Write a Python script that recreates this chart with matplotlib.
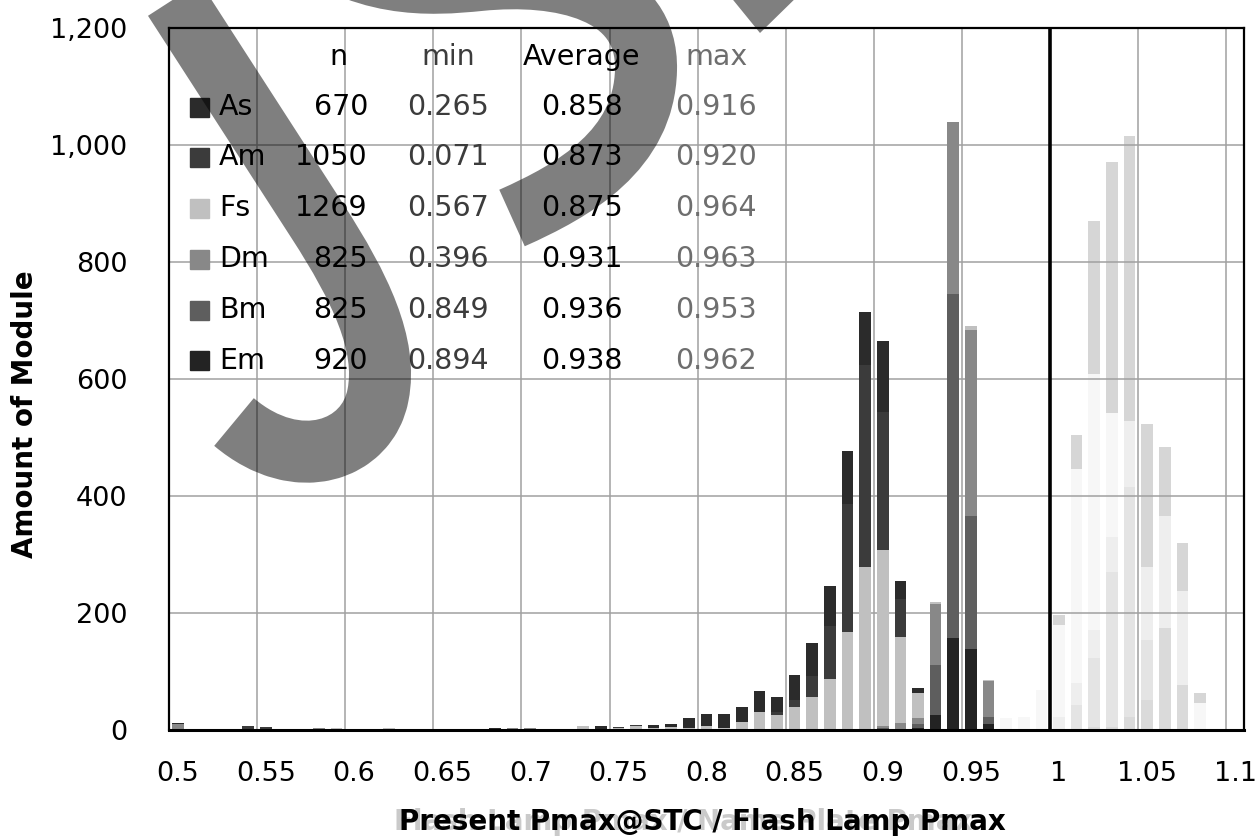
import numpy as np
import matplotlib
matplotlib.use("Agg")
import matplotlib.pyplot as plt
from matplotlib import transforms
from matplotlib.path import Path
from matplotlib.patches import PathPatch, Polygon, Rectangle

plt.rcParams['font.family'] = ['DejaVu Sans']

W, H = 1258, 839

# ---- histogram bins (0.01 wide, value = bin centre) ----
BINS = np.round(np.arange(0.50, 1.105, 0.01), 2)
TICK_POS = [0.5, 0.55, 0.6, 0.65, 0.7, 0.75, 0.8, 0.85, 0.9, 0.95, 1.0, 1.05, 1.1]
TICK_LABELS = ["0.5", "0.55", "0.6", "0.65", "0.7", "0.75", "0.8", "0.85",
               "0.9", "0.95", "1", "1.05", "1.1"]
Y_TICKS = [0, 200, 400, 600, 800, 1000, 1200]
Y_TICK_LABELS = ["0", "200", "400", "600", "800", "1,000", "1,200"]

# ---- module counts per bin, one list per module type ----
EM = [0, 0, 0, 0, 0, 0, 0, 0, 0, 0,
      0, 0, 0, 0, 0, 0, 0, 0, 0, 0,
      0, 0, 0, 0, 0, 0, 0, 0, 0, 0,
      0, 0, 0, 0, 0, 0, 0, 0, 0, 0,
      2, 0, 3, 25, 158, 138, 11, 0, 0, 0,
      0, 0, 0, 0, 0, 0, 0, 0, 0, 0, 0]
BM = [0, 0, 0, 0, 0, 0, 0, 0, 0, 0,
      0, 0, 0, 0, 0, 0, 0, 0, 0, 0,
      0, 0, 0, 0, 0, 0, 0, 0, 0, 0,
      0, 0, 0, 0, 0, 0, 0, 0, 0, 0,
      2, 0, 7, 86, 588, 227, 11, 0, 0, 0,
      0, 0, 0, 0, 0, 0, 0, 0, 0, 0, 0]
DM = [11, 0, 2, 0, 0, 0, 0, 0, 3, 0,
      0, 0, 0, 0, 0, 0, 1, 0, 0, 3,
      3, 0, 0, 2, 0, 0, 0, 0, 0, 0,
      0, 0, 0, 0, 0, 0, 0, 0, 0, 0,
      2, 12, 10, 104, 293, 318, 62, 0, 0, 0,
      0, 0, 0, 0, 0, 0, 0, 0, 0, 0, 0]
FS = [0, 0, 0, 0, 0, 0, 0, 2, 0, 3,
      0, 0, 3, 0, 0, 0, 0, 2, 0, 0,
      0, 0, 0, 4, 1, 3, 6, 4, 5, 4,
      6, 3, 14, 30, 26, 40, 57, 87, 168, 279,
      302, 147, 43, 4, 0, 7, 2, 0, 0, 0,
      0, 0, 0, 0, 0, 0, 0, 0, 0, 0, 0]
AM = [0, 0, 0, 1, 6, 5, 0, 0, 0, 0,
      0, 1, 0, 0, 1, 0, 0, 0, 0, 0,
      0, 1, 0, 0, 0, 2, 2, 0, 0, 0,
      0, 0, 0, 0, 4, 11, 35, 91, 218, 345,
      236, 65, 0, 0, 0, 0, 0, 0, 0, 0,
      0, 0, 0, 0, 0, 0, 0, 0, 0, 0, 0]
AS = [1, 1, 0, 0, 0, 0, 1, 0, 0, 0,
      1, 0, 0, 1, 0, 1, 0, 0, 3, 0,
      0, 0, 1, 0, 6, 0, 0, 5, 6, 16,
      21, 24, 26, 37, 26, 43, 56, 68, 91, 91,
      121, 31, 8, 0, 0, 0, 0, 0, 0, 0,
      0, 0, 0, 0, 0, 0, 0, 0, 0, 0, 0]

# stacked bottom -> top
STACK = [("Em", EM, "#232323"), ("Bm", BM, "#5e5e5e"), ("Dm", DM, "#888888"),
         ("Fs", FS, "#c0c0c0"), ("Am", AM, "#3b3b3b"), ("As", AS, "#2b2b2b")]

# ---- faded flash-lamp / name-plate histogram, bins 0.97 .. 1.10 ----
FADED_BINS = BINS[47:]
FADED_1 = [0, 0, 0, 0, 0, 5, 5, 22, 52, 174, 77, 0, 0, 0]
FADED_2 = [0, 0, 0, 0, 43, 118, 265, 393, 102, 0, 0, 0, 0, 0]
FADED_3 = [0, 0, 0, 22, 37, 48, 60, 113, 125, 192, 161, 0, 0, 0]
FADED_4 = [20, 22, 68, 158, 366, 437, 212, 0, 0, 0, 0, 46, 0, 0]
FADED_5 = [0, 0, 0, 17, 58, 262, 429, 487, 244, 118, 82, 17, 0, 0]
FADED_STACK = [(FADED_1, "#dadada"), (FADED_2, "#e4e4e4"), (FADED_3, "#eeeeee"),
               (FADED_4, "#f7f7f7"), (FADED_5, "#d6d6d6")]

# ---- summary table ----
TABLE_NAMES = ["As", "Am", "Fs", "Dm", "Bm", "Em"]
TABLE_N = [670, 1050, 1269, 825, 825, 920]
TABLE_MIN = [0.265, 0.071, 0.567, 0.396, 0.849, 0.894]
TABLE_AVG = [0.858, 0.873, 0.875, 0.931, 0.936, 0.938]
TABLE_MAX = [0.916, 0.920, 0.964, 0.963, 0.953, 0.962]
TABLE_COLORS = {"As": "#2b2b2b", "Am": "#3b3b3b", "Fs": "#c0c0c0",
                "Dm": "#888888", "Bm": "#5e5e5e", "Em": "#232323"}

BAR_W = 0.0066
FS_TXT = 20.5
FS_TICK = 19.5
FS_TITLE = 20

fig = plt.figure(figsize=(W / 100, H / 100), dpi=100)
ax = fig.add_axes([169 / W, (H - 730) / H, (1244 - 169) / W, (730 - 28) / H])

# faded histogram sits behind the grid
bottom = np.zeros(len(FADED_BINS))
for vals, col in FADED_STACK:
    ax.bar(FADED_BINS, vals, BAR_W, bottom=bottom, color=col, zorder=0.5, linewidth=0)
    bottom += np.array(vals)

# grid
for t in TICK_POS[1:]:
    ax.axvline(t - 0.005, color="#a0a0a0", lw=1.1, zorder=1)
for v in Y_TICKS[1:-1]:
    ax.axhline(v, color="#a0a0a0", lw=1.1, zorder=1)

bottom = np.zeros(len(BINS))
for name, vals, col in STACK:
    ax.bar(BINS, vals, BAR_W, bottom=bottom, color=col, zorder=2, linewidth=0)
    bottom += np.array(vals)

# ratio = 1 marker
ax.axvline(0.995, color="black", lw=2.6, zorder=3)

ax.set_xlim(0.495, 1.105)
ax.set_ylim(0, 1200)
ax.set_xticks(TICK_POS)
ax.set_xticklabels(TICK_LABELS)
ax.set_yticks(Y_TICKS)
ax.set_yticklabels(Y_TICK_LABELS)
ax.tick_params(axis="both", length=0, labelsize=FS_TICK, colors="black")
ax.tick_params(axis="y", pad=30)
ax.tick_params(axis="x", pad=22)
for s in ax.spines.values():
    s.set_linewidth(1.6)
    s.set_color("black")
    s.set_zorder(4)
ax.spines["bottom"].set_linewidth(2.2)


def px_text(x, y, s, **kw):
    fig.text(x / W, 1 - y / H, s, **kw)


# axis titles
fig.text(25 / W, 1 - 414 / H, "Amount of Module", rotation=90, ha="center",
         va="center", fontsize=FS_TITLE, fontweight="bold")
px_text(394, 822, "Flash Lamp Pmax / Name Plate Pmax", ha="left", va="center",
        fontsize=FS_TITLE, fontweight="bold", color="#cacaca")
px_text(399, 822, "Present Pmax@STC / Flash Lamp Pmax", ha="left", va="center",
        fontsize=FS_TITLE, fontweight="bold", color="black")

# summary table inside the plot
px_text(338, 57, "n", ha="center", va="center", fontsize=FS_TXT)
px_text(448, 57, "min", ha="center", va="center", fontsize=FS_TXT, color="#3c3c3c")
px_text(582, 57, "Average", ha="center", va="center", fontsize=FS_TXT)
px_text(716, 57, "max", ha="center", va="center", fontsize=FS_TXT, color="#6e6e6e")
row_y = [107, 157, 208, 259, 310, 361]
for k, name in enumerate(TABLE_NAMES):
    y = row_y[k]
    fig.patches.append(Rectangle((190 / W, 1 - (y + 9.5) / H), 19 / W, 19 / H,
                                 transform=fig.transFigure, color=TABLE_COLORS[name]))
    px_text(219, y, name, ha="left", va="center", fontsize=FS_TXT)
    px_text(368, y, str(TABLE_N[k]), ha="right", va="center", fontsize=FS_TXT)
    px_text(448, y, "%.3f" % TABLE_MIN[k], ha="center", va="center",
            fontsize=FS_TXT, color="#3c3c3c")
    px_text(582, y, "%.3f" % TABLE_AVG[k], ha="center", va="center", fontsize=FS_TXT)
    px_text(716, y, "%.3f" % TABLE_MAX[k], ha="center", va="center",
            fontsize=FS_TXT, color="#6e6e6e")

# hand-drawn strokes across the figure (pixel coordinates, y down)
pix = transforms.Affine2D().scale(1.0 / W, -1.0 / H).translate(0, 1) + fig.transFigure
stroke_lw = 62 * 72 / 100

long_stroke = Path([(165, -15), (318, 222),
                    (360, 287), (388, 345), (378, 395),
                    (368, 450), (298, 476), (234, 422)],
                   [Path.MOVETO, Path.LINETO,
                    Path.CURVE4, Path.CURVE4, Path.CURVE4,
                    Path.CURVE4, Path.CURVE4, Path.CURVE4])
arc_stroke = Path([(290, -70),
                   (360, -10), (430, -15), (480, -20),
                   (560, -28), (648, -10), (646, 70),
                   (644, 150), (575, 190), (512, 218)],
                  [Path.MOVETO,
                   Path.CURVE4, Path.CURVE4, Path.CURVE4,
                   Path.CURVE4, Path.CURVE4, Path.CURVE4,
                   Path.CURVE4, Path.CURVE4, Path.CURVE4])
for p in (long_stroke, arc_stroke):
    fig.patches.append(PathPatch(p, transform=pix, facecolor="none",
                                 edgecolor="black", alpha=0.5, lw=stroke_lw,
                                 capstyle="butt", joinstyle="round", zorder=10))
fig.patches.append(Polygon([(725, -10), (804, -10), (760, 33)], closed=True,
                           transform=pix, facecolor="black", alpha=0.5,
                           edgecolor="none", zorder=10))

fig.savefig("out.png", dpi=100)
